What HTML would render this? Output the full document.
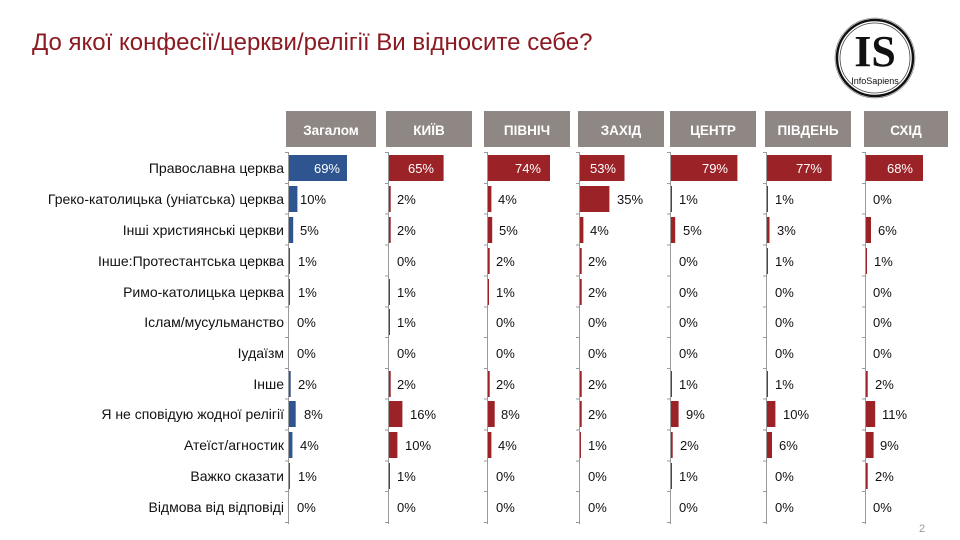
<!DOCTYPE html>
<html><head><meta charset="utf-8"><style>
body{margin:0;background:#fff;}
svg{display:block;font-family:"Liberation Sans",Arial,sans-serif;}
</style></head><body>
<svg width="960" height="540" viewBox="0 0 960 540">
<text x="32" y="50" font-size="24" fill="#8b1a22">До якої конфесії/церкви/релігії Ви відносите себе?</text>
<!-- logo -->
<g transform="translate(875,58)">
<circle r="38" fill="none" stroke="#111" stroke-width="2.5"/>
<circle r="35" fill="none" stroke="#444" stroke-width="0.8"/>
<circle r="40" fill="none" stroke="#777" stroke-width="0.6"/>
<text x="0" y="8" text-anchor="middle" font-family="Liberation Serif,serif" font-weight="bold" font-size="44" fill="#111">IS</text>
<text x="0" y="26" text-anchor="middle" font-size="9" fill="#111">InfoSapiens</text>
</g>
<!-- headers -->
<g font-size="13.5" font-weight="bold" fill="#fff" text-anchor="middle">
<rect x="286" y="111" width="90" height="36" fill="#8f8783"/><text x="331" y="135">Загалом</text>
<rect x="386" y="111" width="86" height="36" fill="#8f8783"/><text x="429" y="135">КИЇВ</text>
<rect x="484" y="111" width="86" height="36" fill="#8f8783"/><text x="527" y="135">ПІВНІЧ</text>
<rect x="578" y="111" width="86" height="36" fill="#8f8783"/><text x="621" y="135">ЗАХІД</text>
<rect x="670" y="111" width="86" height="36" fill="#8f8783"/><text x="713" y="135">ЦЕНТР</text>
<rect x="765" y="111" width="86" height="36" fill="#8f8783"/><text x="808" y="135">ПІВДЕНЬ</text>
<rect x="864" y="111" width="84" height="36" fill="#8f8783"/><text x="906" y="135">СХІД</text>
</g>
<!-- category labels -->
<g font-size="14" fill="#111" text-anchor="end">
<text x="284" y="173">Православна церква</text>
<text x="284" y="204">Греко-католицька (уніатська) церква</text>
<text x="284" y="235">Інші християнські церкви</text>
<text x="284" y="266">Інше:Протестантська церква</text>
<text x="284" y="297">Римо-католицька церква</text>
<text x="284" y="327">Іслам/мусульманство</text>
<text x="284" y="358">Іудаїзм</text>
<text x="284" y="389">Інше</text>
<text x="284" y="419">Я не сповідую жодної релігії</text>
<text x="284" y="450">Атеїст/агностик</text>
<text x="284" y="481">Важко сказати</text>
<text x="284" y="512">Відмова від відповіді</text>
</g>
<!-- axes -->
<g stroke="#9a9a9a" stroke-width="1">
<path d="M288.5 152V524M388.5 152V524M487.5 152V524M579.5 152V524M670.5 152V524M766.5 152V524M865.5 152V524"/>
<path d="M285 152.5h4M285 183.5h4M285 214h4M285 245h4M285 276h4M285 307h4M285 337.5h4M285 368.5h4M285 399h4M285 430h4M285 461h4M285 491.5h4M285 522.5h4"/>
<path d="M385 152.5h4M385 183.5h4M385 214h4M385 245h4M385 276h4M385 307h4M385 337.5h4M385 368.5h4M385 399h4M385 430h4M385 461h4M385 491.5h4M385 522.5h4"/>
<path d="M484 152.5h4M484 183.5h4M484 214h4M484 245h4M484 276h4M484 307h4M484 337.5h4M484 368.5h4M484 399h4M484 430h4M484 461h4M484 491.5h4M484 522.5h4"/>
<path d="M576 152.5h4M576 183.5h4M576 214h4M576 245h4M576 276h4M576 307h4M576 337.5h4M576 368.5h4M576 399h4M576 430h4M576 461h4M576 491.5h4M576 522.5h4"/>
<path d="M667 152.5h4M667 183.5h4M667 214h4M667 245h4M667 276h4M667 307h4M667 337.5h4M667 368.5h4M667 399h4M667 430h4M667 461h4M667 491.5h4M667 522.5h4"/>
<path d="M763 152.5h4M763 183.5h4M763 214h4M763 245h4M763 276h4M763 307h4M763 337.5h4M763 368.5h4M763 399h4M763 430h4M763 461h4M763 491.5h4M763 522.5h4"/>
<path d="M862 152.5h4M862 183.5h4M862 214h4M862 245h4M862 276h4M862 307h4M862 337.5h4M862 368.5h4M862 399h4M862 430h4M862 461h4M862 491.5h4M862 522.5h4"/>
</g>
<!-- Загалом (blue) -->
<g fill="#2e5590">
<rect x="289" y="155" width="58" height="26"/>
<rect x="289" y="186" width="8.4" height="26"/>
<rect x="289" y="217" width="4.2" height="26"/>
<rect x="289" y="248" width="1" height="26"/>
<rect x="289" y="279" width="1" height="26"/>
<rect x="289" y="371" width="1.7" height="26"/>
<rect x="289" y="401" width="6.7" height="26"/>
<rect x="289" y="432" width="3.4" height="26"/>
<rect x="289" y="463" width="1" height="26"/>
</g>
<g fill="#9b2328">
<rect x="389" y="155" width="54.6" height="26"/>
<rect x="389" y="186" width="1.7" height="26"/>
<rect x="389" y="217" width="1.7" height="26"/>
<rect x="389" y="279" width="1" height="26"/>
<rect x="389" y="309" width="1" height="26"/>
<rect x="389" y="371" width="1.7" height="26"/>
<rect x="389" y="401" width="13.4" height="26"/>
<rect x="389" y="432" width="8.4" height="26"/>
<rect x="389" y="463" width="1" height="26"/>
<rect x="488" y="155" width="62" height="26"/>
<rect x="488" y="186" width="3.4" height="26"/>
<rect x="488" y="217" width="4.2" height="26"/>
<rect x="488" y="248" width="1.7" height="26"/>
<rect x="488" y="279" width="1" height="26"/>
<rect x="488" y="371" width="1.7" height="26"/>
<rect x="488" y="401" width="6.7" height="26"/>
<rect x="488" y="432" width="3.4" height="26"/>
<rect x="580" y="155" width="44.5" height="26"/>
<rect x="580" y="186" width="29.4" height="26"/>
<rect x="580" y="217" width="3.4" height="26"/>
<rect x="580" y="248" width="1.7" height="26"/>
<rect x="580" y="279" width="1.7" height="26"/>
<rect x="580" y="371" width="1.7" height="26"/>
<rect x="580" y="401" width="1.7" height="26"/>
<rect x="580" y="432" width="1" height="26"/>
<rect x="671" y="155" width="66.4" height="26"/>
<rect x="671" y="186" width="1" height="26"/>
<rect x="671" y="217" width="4.2" height="26"/>
<rect x="671" y="371" width="1" height="26"/>
<rect x="671" y="401" width="7.6" height="26"/>
<rect x="671" y="432" width="1.7" height="26"/>
<rect x="671" y="463" width="1" height="26"/>
<rect x="767" y="155" width="64.7" height="26"/>
<rect x="767" y="186" width="1" height="26"/>
<rect x="767" y="217" width="2.5" height="26"/>
<rect x="767" y="248" width="1" height="26"/>
<rect x="767" y="371" width="1" height="26"/>
<rect x="767" y="401" width="8.4" height="26"/>
<rect x="767" y="432" width="5" height="26"/>
<rect x="866" y="155" width="57" height="26"/>
<rect x="866" y="217" width="5" height="26"/>
<rect x="866" y="248" width="1" height="26"/>
<rect x="866" y="371" width="1.7" height="26"/>
<rect x="866" y="401" width="9.2" height="26"/>
<rect x="866" y="432" width="7.6" height="26"/>
<rect x="866" y="463" width="1.7" height="26"/>
</g>
<g font-size="13" fill="#fff" text-anchor="end">
<text x="340" y="173">69%</text>
<text x="434" y="173">65%</text>
<text x="541" y="173">74%</text>
<text x="616" y="173">53%</text>
<text x="728" y="173">79%</text>
<text x="822" y="173">77%</text>
<text x="913" y="173">68%</text>
</g>
<g font-size="13" fill="#111">
<text x="300" y="204">10%</text><text x="300" y="235">5%</text><text x="298" y="266">1%</text><text x="298" y="297">1%</text><text x="297" y="327">0%</text><text x="297" y="358">0%</text><text x="298" y="389">2%</text><text x="304" y="419">8%</text><text x="300" y="450">4%</text><text x="298" y="481">1%</text><text x="297" y="512">0%</text>
<text x="397" y="204">2%</text><text x="397" y="235">2%</text><text x="397" y="266">0%</text><text x="397" y="297">1%</text><text x="397" y="327">1%</text><text x="397" y="358">0%</text><text x="397" y="389">2%</text><text x="410" y="419">16%</text><text x="405" y="450">10%</text><text x="397" y="481">1%</text><text x="397" y="512">0%</text>
<text x="498" y="204">4%</text><text x="499" y="235">5%</text><text x="496" y="266">2%</text><text x="496" y="297">1%</text><text x="496" y="327">0%</text><text x="496" y="358">0%</text><text x="496" y="389">2%</text><text x="501" y="419">8%</text><text x="498" y="450">4%</text><text x="496" y="481">0%</text><text x="496" y="512">0%</text>
<text x="617" y="204">35%</text><text x="590" y="235">4%</text><text x="588" y="266">2%</text><text x="588" y="297">2%</text><text x="588" y="327">0%</text><text x="588" y="358">0%</text><text x="588" y="389">2%</text><text x="588" y="419">2%</text><text x="588" y="450">1%</text><text x="588" y="481">0%</text><text x="588" y="512">0%</text>
<text x="679" y="204">1%</text><text x="683" y="235">5%</text><text x="679" y="266">0%</text><text x="679" y="297">0%</text><text x="679" y="327">0%</text><text x="679" y="358">0%</text><text x="679" y="389">1%</text><text x="686" y="419">9%</text><text x="680" y="450">2%</text><text x="679" y="481">1%</text><text x="679" y="512">0%</text>
<text x="775" y="204">1%</text><text x="777" y="235">3%</text><text x="775" y="266">1%</text><text x="775" y="297">0%</text><text x="775" y="327">0%</text><text x="775" y="358">0%</text><text x="775" y="389">1%</text><text x="783" y="419">10%</text><text x="779" y="450">6%</text><text x="775" y="481">0%</text><text x="775" y="512">0%</text>
<text x="873" y="204">0%</text><text x="878" y="235">6%</text><text x="874" y="266">1%</text><text x="873" y="297">0%</text><text x="873" y="327">0%</text><text x="873" y="358">0%</text><text x="875" y="389">2%</text><text x="882" y="419">11%</text><text x="880" y="450">9%</text><text x="875" y="481">2%</text><text x="873" y="512">0%</text>
</g>
<text x="919" y="532" font-size="11" fill="#999">2</text>
</svg>
</body></html>
